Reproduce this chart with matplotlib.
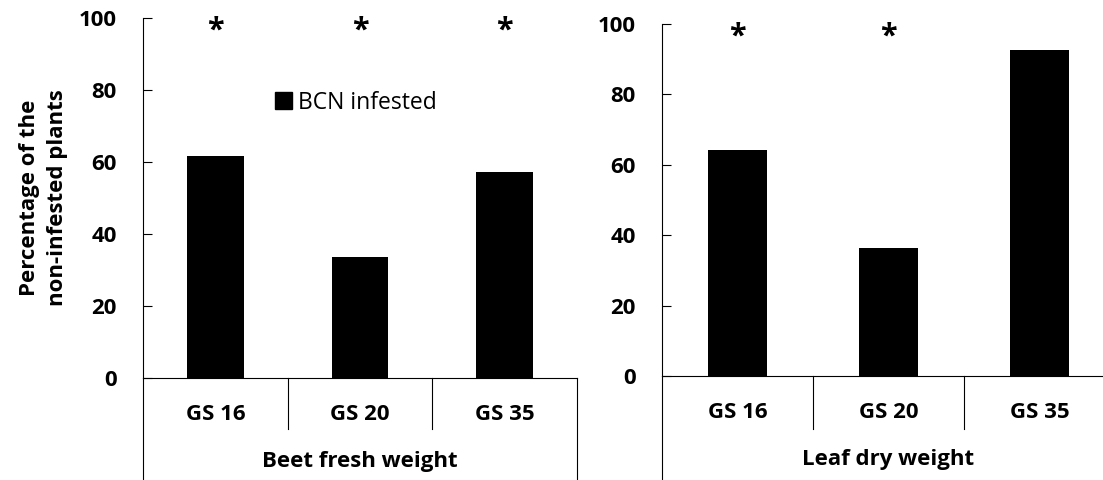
import matplotlib
matplotlib.use("Agg")
import matplotlib.pyplot as plt
from matplotlib.patches import Patch

plt.rcParams['font.family'] = ['Open Sans', 'DejaVu Sans']

categories = ["GS 16", "GS 20", "GS 35"]
beet_fresh = [61.7, 33.6, 57.3]
leaf_dry = [64.3, 36.4, 92.6]
beet_sig = [True, True, True]
leaf_sig = [True, True, False]
group_labels = ["Beet fresh weight", "Leaf dry weight"]
yticks = [0, 20, 40, 60, 80, 100]
legend_label = "BCN infested"
ylabel = "Percentage of the\nnon-infested plants"

W, H = 1103, 480
fig = plt.figure(figsize=(W / 100, H / 100), dpi=100)

def px_axes(x0, x1, y_top, y_bot):
    return [x0 / W, 1 - y_bot / H, (x1 - x0) / W, (y_bot - y_top) / H]

ax1 = fig.add_axes(px_axes(143, 577, 18, 378))
ax2 = fig.add_axes(px_axes(662, 1115, 24, 376))

FS = 16

def draw_panel(ax, values, sig, group, y_top, y_bot):
    x = list(range(len(categories)))
    ax.bar(x, values, width=0.39, color="black")
    ax.set_xlim(-0.5, len(categories) - 0.5)
    ax.set_ylim(0, 100)
    ax.set_yticks(yticks)
    ax.set_yticklabels([str(t) for t in yticks], fontsize=FS, fontweight="bold")
    ax.tick_params(axis="y", direction="in", length=6.5, width=0.8, pad=19)
    ax.set_xticks([])
    for s in ["top", "right"]:
        ax.spines[s].set_visible(False)
    for s in ["left", "bottom"]:
        ax.spines[s].set_linewidth(0.8)
    ppu = (y_bot - y_top)
    def yfrac(px):
        return (y_bot - px) / ppu
    tr = ax.get_xaxis_transform()
    for b in [i + 0.5 for i in range(len(categories) - 1)]:
        ax.plot([b, b], [0, yfrac(429)], transform=tr, color="black", lw=0.8, clip_on=False)
    for b in [-0.5, len(categories) - 0.5]:
        ax.plot([b, b], [0, yfrac(481)], transform=tr, color="black", lw=0.8, clip_on=False)
    for xi, c in zip(x, categories):
        ax.text(xi, yfrac(y_bot + 36), c, transform=tr, ha="center", va="center",
                fontsize=FS, fontweight="bold")
    ax.text((len(categories) - 1) / 2, yfrac(y_bot + 83), group, transform=tr,
            ha="center", va="center", fontsize=FS, fontweight="bold")
    for xi, s in zip(x, sig):
        if s:
            ax.text(xi, 96.5, "*", ha="center", va="center", fontsize=22, fontweight="bold")

draw_panel(ax1, beet_fresh, beet_sig, group_labels[0], 18, 378)
draw_panel(ax2, leaf_dry, leaf_sig, group_labels[1], 24, 376)

ax1.set_ylabel(ylabel, fontsize=FS, fontweight="bold", labelpad=8, linespacing=1.4)

ax1.legend(handles=[Patch(facecolor="black", edgecolor="black", label=legend_label)],
           loc="center", bbox_to_anchor=(0.49, 0.765), frameon=False, fontsize=16.5,
           handlelength=0.75, handleheight=0.75, handletextpad=0.25)

fig.savefig("out.png", dpi=100)
